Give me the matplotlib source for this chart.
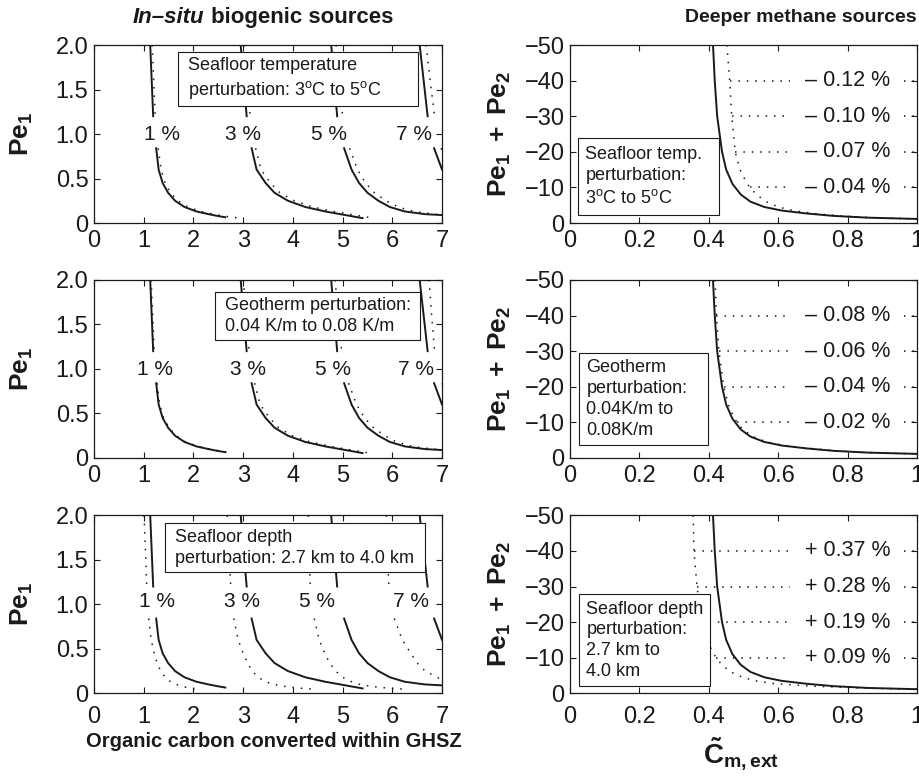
import numpy as np
import matplotlib
matplotlib.use("Agg")
import matplotlib.pyplot as plt
from matplotlib.patches import Rectangle

nan = np.nan

plt.rcParams['font.family'] = ['Liberation Sans', 'DejaVu Sans']
plt.rcParams['mathtext.fontset'] = 'custom'
plt.rcParams['mathtext.rm'] = 'Liberation Sans'
plt.rcParams['mathtext.it'] = 'Liberation Sans:italic'
plt.rcParams['mathtext.bf'] = 'Liberation Sans:bold'

INK = '#1a1a1a'

# ---- left column: contours of organic carbon converted (%) vs Pe1 ----
# nan in the level list = gap left for the inline contour label
pe1_levels = [2.0, 1.6, 1.2, nan, 0.84, 0.6, 0.45, 0.34, 0.25, 0.18, 0.13, 0.1, 0.08, 0.065, 0.055, 0.045]
contour_pct = ['1 %', '3 %', '5 %', '7 %']

# reference case (solid), same in all three panels
base_1 = [1.13, 1.16, 1.19, nan, 1.25, 1.30, 1.38, 1.49, 1.63, 1.82, 2.06, 2.30, 2.48, 2.64, nan, nan]
base_3 = [2.95, 3.01, 3.07, nan, 3.17, 3.27, 3.45, 3.63, 3.90, 4.25, 4.65, 4.95, 5.15, 5.30, 5.40, nan]
base_5 = [4.77, 4.83, 4.89, nan, 5.03, 5.18, 5.33, 5.50, 5.72, 5.95, 6.25, 6.65, 7.30, nan, nan, nan]
base_7 = [6.55, 6.63, 6.71, nan, 6.84, 7.00, 7.20, nan, nan, nan, nan, nan, nan, nan, nan, nan]

# perturbed cases (dotted)
temp_1 = [1.17, 1.20, 1.23, nan, 1.29, 1.35, 1.43, 1.54, 1.69, 1.89, 2.14, 2.40, 2.60, 2.78, 2.92, nan]
temp_3 = [3.02, 3.08, 3.14, nan, 3.25, 3.36, 3.55, 3.74, 4.03, 4.40, 4.82, 5.13, 5.35, 5.52, 5.65, nan]
temp_5 = [4.87, 4.93, 5.00, nan, 5.14, 5.30, 5.46, 5.64, 5.87, 6.12, 6.43, 6.85, 7.40, nan, nan, nan]
temp_7 = [6.68, 6.76, 6.85, nan, 6.98, 7.15, nan, nan, nan, nan, nan, nan, nan, nan, nan, nan]

geo_1 = [1.15, 1.18, 1.21, nan, 1.27, 1.32, 1.40, 1.51, 1.65, 1.84, 2.09, 2.33, 2.52, 2.68, nan, nan]
geo_3 = [3.00, 3.06, 3.12, nan, 3.23, 3.34, 3.53, 3.71, 3.99, 4.35, 4.76, 5.07, 5.28, 5.44, 5.55, nan]
geo_5 = [4.85, 4.91, 4.98, nan, 5.12, 5.28, 5.44, 5.62, 5.85, 6.08, 6.40, 6.82, 7.40, nan, nan, nan]
geo_7 = [6.74, 6.79, 6.85, nan, 7.00, 7.20, nan, nan, nan, nan, nan, nan, nan, nan, nan, nan]

depth_1 = [1.006, 1.035, 1.06, nan, 1.10, 1.15, 1.21, 1.27, 1.34, 1.43, 1.54, 1.65, 1.76, 1.86, 1.95, 2.05]
depth_3 = [2.68, 2.71, 2.75, nan, 2.81, 2.90, 3.00, 3.09, 3.18, 3.30, 3.45, 3.62, 3.80, 4.00, 4.20, 4.45]
depth_5 = [4.31, 4.32, 4.35, nan, 4.43, 4.53, 4.64, 4.74, 4.86, 5.00, 5.18, 5.35, 5.55, 5.78, 6.00, 6.30]
depth_7 = [5.88, 5.90, 5.93, nan, 6.04, 6.20, 6.37, 6.50, 6.66, 6.90, 7.10, nan, nan, nan, nan, nan]

# contour label positions (organic carbon, Pe1) per panel
lab_x_temp = [1.36, 2.99, 4.73, 6.44]
lab_x_geo = [1.23, 3.09, 4.80, 6.48]
lab_x_depth = [1.26, 2.98, 4.49, 6.38]
lab_y = [0.99, 0.99, 1.03]

# ---- right column: Pe1 + Pe2 vs C~m,ext ----
pe12_levels = [-50, -40, -30, -20, -15, -11, -8, -6, -4.5, -3.5, -2.7, -2.0, -1.5, -1.15]
cm_base = [0.412, 0.417, 0.424, 0.438, 0.450, 0.468, 0.492, 0.52, 0.56, 0.61, 0.68, 0.76, 0.86, 1.0]
cm_temp = [0.452, 0.460, 0.466, 0.476, 0.49, 0.51, 0.537, 0.565, 0.60, 0.645, 0.70, 0.78, 0.87, 1.0]
cm_geo = [0.418, 0.422, 0.429, 0.443, 0.456, 0.474, 0.498, 0.527, 0.567, 0.618, 0.688, 0.77, 0.87, 1.0]
cm_depth = [0.355, 0.357, 0.366, 0.378, 0.394, 0.414, 0.437, 0.463, 0.497, 0.535, 0.59, 0.70, 0.83, 1.0]

change_levels = [-40, -30, -20, -10]
change_temp = ['\u2013 0.12 %', '\u2013 0.10 %', '\u2013 0.07 %', '\u2013 0.04 %']
change_geo = ['\u2013 0.08 %', '\u2013 0.06 %', '\u2013 0.04 %', '\u2013 0.02 %']
change_depth = ['+ 0.37 %', '+ 0.28 %', '+ 0.19 %', '+ 0.09 %']

left_boxes = ['Seafloor temperature\nperturbation: 3$^\\mathrm{o}$C to 5$^\\mathrm{o}$C',
              'Geotherm perturbation:\n0.04 K/m to 0.08 K/m',
              'Seafloor depth\nperturbation: 2.7 km to 4.0 km']
right_boxes = ['Seafloor temp.\nperturbation:\n3$^\\mathrm{o}$C to 5$^\\mathrm{o}$C',
               'Geotherm\nperturbation:\n0.04K/m to\n0.08K/m',
               'Seafloor depth\nperturbation:\n2.7 km to\n4.0 km']

# box extents in axes fraction (x0, x1, y0, y1)
left_box_pos = [(0.241, 0.931, 0.657, 0.962), (0.348, 0.937, 0.663, 0.934), (0.204, 0.951, 0.680, 0.955)]
right_box_pos = [(0.023, 0.429, 0.045, 0.478), (0.026, 0.398, 0.073, 0.592), (0.026, 0.403, 0.039, 0.556)]

fig = plt.figure(figsize=(9.2, 7.79), dpi=100)
bottoms = [0.7137, 0.4121, 0.1100]
dot = (0, (1, 4.5))

left_dotted = [[temp_1, temp_3, temp_5, temp_7],
               [geo_1, geo_3, geo_5, geo_7],
               [depth_1, depth_3, depth_5, depth_7]]
left_labx = [lab_x_temp, lab_x_geo, lab_x_depth]
right_dotted = [cm_temp, cm_geo, cm_depth]
right_labels = [change_temp, change_geo, change_depth]


def style(ax, row):
    ax.tick_params(direction='in', top=True, right=True, length=4, width=0.8,
                   labelsize=17, colors=INK, pad=4)
    ax.tick_params(axis='x', pad=5 if row < 2 else 9)
    for s in ax.spines.values():
        s.set_linewidth(0.9)
        s.set_color(INK)


def add_box(ax, pos, txt):
    x0, x1, y0, y1 = pos
    ax.add_patch(Rectangle((x0, y0), x1 - x0, y1 - y0, transform=ax.transAxes,
                           facecolor='white', edgecolor=INK, lw=0.8, zorder=5))
    ax.text(x0 + 0.028 * (1 if x1 - x0 > 0.5 else 0.75), (y0 + y1) / 2, txt,
            transform=ax.transAxes, ha='left', va='center', fontsize=13,
            color=INK, linespacing=1.3, zorder=6)


for row in range(3):
    # left panel
    ax = fig.add_axes([0.1022, bottoms[row], 0.3783, 0.2285])
    for xs in [base_1, base_3, base_5, base_7]:
        ax.plot(xs, pe1_levels, color=INK, lw=1.4)
    for xs in left_dotted[row]:
        ax.plot(xs, pe1_levels, color=INK, lw=1.1, ls=dot)
    for lx, txt in zip(left_labx[row], contour_pct):
        ax.text(lx, lab_y[row], txt, ha='center', va='center', fontsize=15, color=INK)
    add_box(ax, left_box_pos[row], left_boxes[row])
    ax.set_xlim(0, 7)
    ax.set_ylim(0, 2)
    ax.set_xticks(range(8))
    ax.set_yticks([0, 0.5, 1.0, 1.5, 2.0])
    ax.set_yticklabels(['0', '0.5', '1.0', '1.5', '2.0'])
    ax.set_ylabel(r'$\mathbf{Pe_1}$', fontsize=19, color=INK)
    ax.yaxis.set_label_coords(-0.17, 0.5)
    style(ax, row)

    # right panel
    ax = fig.add_axes([0.6196, bottoms[row], 0.3772, 0.2285])
    ax.plot(cm_base, pe12_levels, color=INK, lw=1.4)
    ax.plot(right_dotted[row], pe12_levels, color=INK, lw=1.1, ls=dot)
    for lev, txt in zip(change_levels, right_labels[row]):
        x_start = np.interp(lev, pe12_levels, right_dotted[row])
        ax.plot([x_start, 0.635], [lev, lev], color=INK, lw=1.1, ls=dot)
        ax.plot([0.962, 1.0], [lev, lev], color=INK, lw=1.1, ls=dot)
        ax.text(0.80, lev, txt, ha='center', va='center', fontsize=15.5, color=INK)
    add_box(ax, right_box_pos[row], right_boxes[row])
    ax.set_xlim(0, 1)
    ax.set_ylim(0, -50)
    ax.set_xticks([0, 0.2, 0.4, 0.6, 0.8, 1.0])
    ax.set_xticklabels(['0', '0.2', '0.4', '0.6', '0.8', '1'])
    ax.set_yticks([-50, -40, -30, -20, -10, 0])
    ax.set_yticklabels(['\u221250', '\u221240', '\u221230', '\u221220', '\u221210', '0'])
    ax.set_ylabel(r'$\mathbf{Pe_1\ +\ Pe_2}$', fontsize=19, color=INK)
    ax.yaxis.set_label_coords(-0.165, 0.5)
    style(ax, row)

# column titles
t1 = fig.text(0.1446, 0.977, 'In\u2013situ', fontsize=16, weight='bold', style='italic',
              ha='left', va='center', color=INK)
plt.annotate(' biogenic sources', xy=(1, 0), xycoords=t1, ha='left', va='bottom',
             fontsize=16, weight='bold', color=INK)
fig.text(0.996, 0.977, 'Deeper methane sources', fontsize=14, weight='bold',
         ha='right', va='center', color=INK)

# x labels
fig.text(0.298, 0.048, 'Organic carbon converted within GHSZ', fontsize=14.5,
         weight='bold', ha='center', va='center', color=INK)
fig.text(0.805, 0.032, r'$\mathbf{\tilde{C}_{m,ext}}$', fontsize=20,
         ha='center', va='center', color=INK)

fig.savefig('out.png', dpi=100)
